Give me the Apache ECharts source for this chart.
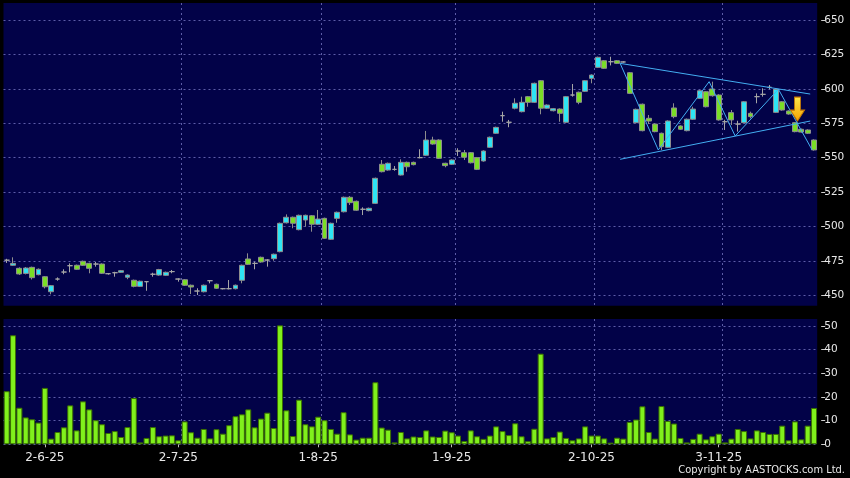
<!DOCTYPE html>
<html><head><meta charset="utf-8">
<script src="https://cdn.jsdelivr.net/npm/echarts@6/dist/echarts.min.js"></script>
<style>html,body{margin:0;padding:0;background:#000;}#c{width:850px;height:478px;}</style>
</head><body><div id="c"></div><script>
const dates = ['23-5-25','26-5-25','27-5-25','28-5-25','29-5-25','30-5-25',
'2-6-25','3-6-25','4-6-25','5-6-25','6-6-25','9-6-25','10-6-25','11-6-25','12-6-25','13-6-25','16-6-25','17-6-25','18-6-25','19-6-25','20-6-25','23-6-25','24-6-25','25-6-25','26-6-25','27-6-25','30-6-25',
'2-7-25','3-7-25','4-7-25','7-7-25','8-7-25','9-7-25','10-7-25','11-7-25','14-7-25','15-7-25','16-7-25','17-7-25','18-7-25','21-7-25','22-7-25','23-7-25','24-7-25','25-7-25','28-7-25','29-7-25','30-7-25','31-7-25',
'1-8-25','4-8-25','5-8-25','6-8-25','7-8-25','8-8-25','11-8-25','12-8-25','13-8-25','14-8-25','15-8-25','18-8-25','19-8-25','20-8-25','21-8-25','22-8-25','25-8-25','26-8-25','27-8-25','28-8-25','29-8-25',
'1-9-25','2-9-25','3-9-25','4-9-25','5-9-25','8-9-25','9-9-25','10-9-25','11-9-25','12-9-25','15-9-25','16-9-25','17-9-25','18-9-25','19-9-25','22-9-25','23-9-25','24-9-25','25-9-25','26-9-25','29-9-25','30-9-25',
'2-10-25','3-10-25','6-10-25','8-10-25','9-10-25','10-10-25','13-10-25','14-10-25','15-10-25','16-10-25','17-10-25','20-10-25','21-10-25','22-10-25','23-10-25','24-10-25','27-10-25','28-10-25','30-10-25','31-10-25',
'3-11-25','4-11-25','5-11-25','6-11-25','7-11-25','10-11-25','11-11-25','12-11-25','13-11-25','14-11-25','17-11-25','18-11-25','19-11-25','20-11-25','21-11-25','24-11-25'];

const opens = [475.5,471.8,469.6,465.9,470.3,465.0,463.5,452.6,461.8,466.9,471.5,471.8,474.7,473.2,472.7,472.7,465.7,466.4,466.7,463.1,
460.9,456.5,459.9,465.3,464.7,464.5,467.2,461.8,461.3,457.3,453.1,452.6,460.6,458.0,454.8,454.8,454.8,460.9,476.4,473.2,
477.6,475.6,476.6,481.7,502.7,506.7,497.7,504.7,507.8,501.6,505.9,490.7,505.9,510.7,521.2,518.3,512.5,511.5,516.8,545.2,
541.0,541.5,537.4,546.6,546.6,550.0,551.7,562.8,562.8,545.9,545.2,554.8,553.6,553.6,550.0,547.6,557.5,567.7,580.5,575.7,
585.9,583.4,594.3,590.2,605.9,585.9,584.1,585.3,575.7,595.5,597.5,598.2,607.6,615.6,620.4,619.7,620.4,619.5,611.7,575.4,
588.8,578.6,574.4,567.7,557.5,586.1,573.0,569.6,577.9,593.1,597.9,599.9,595.5,576.1,582.7,574.4,575.4,582.2,594.3,596.0,
601.1,582.9,590.6,583.9,575.4,570.6,570.1,562.8];
const closes = [475.5,473.2,465.5,469.8,462.8,468.9,456.2,457.0,461.8,466.9,471.5,468.9,471.8,469.6,472.7,466.0,465.7,466.4,467.9,464.7,
456.5,460.2,459.9,465.3,468.7,466.7,467.2,461.8,457.3,456.0,453.1,457.3,460.6,455.1,454.8,454.8,457.3,471.8,472.5,473.2,
474.2,475.6,479.8,502.3,506.7,502.3,508.1,508.1,501.6,505.4,491.4,502.3,510.3,521.2,517.3,511.8,512.5,513.2,535.0,539.8,
545.9,541.5,546.6,543.4,544.9,550.0,562.8,559.9,549.5,544.2,548.3,554.8,550.3,546.3,541.5,554.8,564.8,572.0,580.5,575.7,
589.5,590.2,590.2,604.0,585.9,588.2,585.6,582.2,594.3,595.5,590.2,605.9,610.0,622.9,614.9,619.7,618.5,619.5,596.7,585.1,
569.6,576.6,568.9,558.0,576.6,579.8,570.6,577.9,585.3,598.6,587.0,595.0,577.4,576.1,577.4,574.4,590.6,579.8,594.3,596.0,
601.1,599.7,584.6,581.7,568.9,568.6,567.7,555.6];
const lows = [473.5,471.3,464.8,465.2,461.5,464.5,455.0,450.7,460.6,465.3,466.7,468.5,471.3,466.0,470.8,465.5,465.0,463.5,466.2,461.7,
455.8,456.0,453.3,463.5,464.2,464.0,466.0,459.9,456.8,450.9,450.2,452.1,458.7,454.6,454.3,454.3,454.3,458.7,472.0,468.9,
473.7,470.8,475.1,481.2,502.2,498.7,497.2,499.8,496.2,501.1,490.9,490.2,502.7,510.2,515.6,511.3,508.3,511.0,516.3,539.3,
540.5,540.5,537.0,539.8,544.4,549.5,551.2,559.4,549.0,543.0,544.7,551.2,548.3,545.8,541.0,547.1,557.0,567.2,576.1,572.1,
585.1,582.9,587.0,589.7,581.5,585.4,583.6,576.1,575.2,594.3,588.8,597.7,604.0,615.1,614.4,617.0,618.0,619.0,596.2,574.9,
569.1,574.4,568.4,555.6,557.0,578.6,570.1,569.1,577.4,592.6,586.5,594.3,576.9,570.1,573.7,568.9,574.9,578.5,589.5,594.3,
599.7,582.4,584.1,581.2,568.4,568.1,567.2,555.1];
const highs = [476.5,477.6,470.3,470.5,470.8,469.5,464.0,457.5,463.0,468.9,473.2,472.3,475.2,473.7,474.2,473.2,466.2,467.1,468.4,465.2,
461.4,460.7,460.3,466.4,469.2,467.2,468.4,462.3,461.8,457.8,455.1,457.8,461.1,458.5,455.3,461.1,457.8,472.3,480.5,474.4,
478.1,476.2,480.3,502.8,508.8,507.2,508.6,508.6,508.3,512.0,506.4,502.8,510.8,521.7,522.1,518.8,513.9,513.7,535.5,548.3,
546.4,543.9,548.8,547.1,547.1,556.1,569.4,565.2,563.3,546.3,548.8,556.8,555.6,554.1,550.5,555.3,565.3,572.5,583.4,577.4,
593.1,594.3,594.8,604.5,606.4,588.7,586.1,585.8,594.8,603.5,598.0,606.4,610.5,623.4,620.9,623.3,620.9,620.0,612.2,585.6,
589.3,581.0,574.9,568.2,577.1,589.5,573.5,578.4,587.0,599.1,598.4,605.2,596.0,577.5,584.6,576.8,591.1,583.4,596.7,600.4,
602.8,600.2,591.1,584.4,575.9,571.1,570.6,563.3];
const volumes = [22.5,46.2,15.5,11.4,10.6,9.2,23.9,2.4,5.2,7.2,16.5,5.9,18.2,14.8,10.2,8.5,4.8,5.6,3.1,7.3,
19.6,0.8,2.7,7.3,3.4,3.7,3.8,1.7,9.7,5.1,2.8,6.5,2.5,6.4,4.5,8.1,11.9,12.7,14.8,7.2,
10.9,13.4,6.9,50.4,14.4,3.5,18.9,8.5,7.6,11.7,10.2,6.5,4.5,13.6,4.2,2.0,2.8,2.8,26.3,7.1,
6.2,0.8,5.2,2.5,3.3,3.1,5.9,3.3,3.1,5.8,5.1,3.7,1.4,5.9,3.4,2.3,3.7,7.6,5.6,3.9,
8.9,3.4,1.3,6.6,38.4,2.5,3.1,5.4,2.7,1.7,2.5,7.6,3.7,3.7,2.5,0.7,2.8,2.4,9.5,10.5,
16.1,5.2,2.4,16.2,9.9,8.8,2.7,0.8,2.3,4.5,2.1,3.4,4.5,0.8,2.4,6.5,5.6,2.5,5.9,5.2,
4.4,4.4,7.9,1.7,9.7,2.1,7.9,15.4];
const labelDates = ['2-6-25','2-7-25','1-8-25','1-9-25','2-10-25','3-11-25'];
const priceAxis = {min:450, max:650, interval:25};
const volumeAxis = {min:0, max:50, interval:10};
// hand-drawn annotation lines: [category index, price]
const upperTrend = [[96.5,618.5],[126.4,596.2]];
const lowerTrend = [[96.5,548.8],[126.4,576.6]];
const zigzag = [[96.5,618.5],[102.5,555.6],[110.5,605.2],[114.6,565.7],[121.4,599.7],[126.7,555.6]];
const arrowPoint = [[124.4,585.3]];
const copyright = 'Copyright by AASTOCKS.com Ltd.';

const chart = echarts.init(document.getElementById('c'), null, {renderer:'canvas', width:850, height:478});
const L = 3.5, W = 813.7;
const NAVY = '#020248';
const GRIDC = '#5d5da8';
const DASH = [2,3];
const FONT = 'DejaVu Sans';
const pxPerPrice = 275.3/(priceAxis.max-priceAxis.min);
const PMAX = priceAxis.max + 17/pxPerPrice;
const PMIN = priceAxis.min - 10.4/pxPerPrice;
const pxPerVol = 118/(volumeAxis.max-volumeAxis.min);
const VMAX = 125.3/pxPerVol;

const isLabel = v => labelDates.indexOf(v) >= 0;
const splitFn = idx => idx > 0 && isLabel(dates[idx-1]);
const splitLine = {show:true, interval:splitFn, showMaxLine:false, showMinLine:false, lineStyle:{color:GRIDC, type:DASH, width:1}};
const candleData = dates.map((d,i) => {
  const o = opens[i], c = closes[i];
  const item = {value:[o, c, lows[i], highs[i]]};
  if (o === c) item.itemStyle = {color:'#a6a6a6', borderColor:'#a6a6a6'};
  return item;
});
const yLabelAxis = (grid, ax) => ({gridIndex:grid, type:'value', min:ax.min, max:ax.max, interval:ax.interval,
  position:'right', offset:4, axisLine:{show:false},
  axisTick:{show:true, length:4, lineStyle:{color:'#cfcfcf'}},
  axisLabel:{color:'#e8e8e8', fontSize:10.5, fontFamily:FONT, margin:3},
  splitLine:{show:true, lineStyle:{color:GRIDC, type:DASH, width:1}}});
const trendStyle = {color:'#43aef2', width:1};

chart.setOption({
  backgroundColor:'#000',
  animation:false,
  grid:[
    {left:L, width:W, top:3, height:302.7, show:true, backgroundColor:NAVY, borderWidth:0},
    {left:L, width:W, top:20, height:275.3, show:false},
    {left:L, width:W, top:319, height:125.3, show:true, backgroundColor:NAVY, borderWidth:0},
    {left:L, width:W, top:326, height:118, show:false}
  ],
  xAxis:[
    {gridIndex:0, type:'category', data:dates, boundaryGap:true, axisLine:{show:false}, axisTick:{show:false}, axisLabel:{show:false}, splitLine:splitLine},
    {gridIndex:1, type:'category', data:dates, show:false},
    {gridIndex:2, type:'category', data:dates, boundaryGap:true, offset:2, axisLine:{show:false},
      axisTick:{show:true, interval:(i,v)=>isLabel(v), alignWithLabel:true, length:3, lineStyle:{color:'#bdbdbd'}},
      axisLabel:{show:true, interval:(i,v)=>isLabel(v), color:'#e8e8e8', fontSize:12, fontFamily:FONT, margin:5.5},
      splitLine:splitLine},
    {gridIndex:3, type:'category', data:dates, show:false},
    {gridIndex:0, type:'value', min:-0.5, max:dates.length-0.5, show:false}
  ],
  yAxis:[
    {gridIndex:0, type:'value', min:PMIN, max:PMAX, show:false},
    yLabelAxis(1, priceAxis),
    {gridIndex:2, type:'value', min:0, max:VMAX, show:false},
    yLabelAxis(3, volumeAxis)
  ],
  series:[
    {type:'candlestick', xAxisIndex:0, yAxisIndex:0, data:candleData, barWidth:5.4,
      itemStyle:{color:'#2ee4f4', color0:'#7ade26', borderColor:'#8e8e8e', borderColor0:'#8e8e8e', borderWidth:1}},
    {type:'bar', xAxisIndex:2, yAxisIndex:2, data:volumes, barWidth:'94%',
      itemStyle:{color:'#80f01c', borderColor:'#3b7000', borderWidth:1}},
    {type:'line', xAxisIndex:4, yAxisIndex:0, data:upperTrend, symbol:'none', lineStyle:trendStyle, z:5},
    {type:'line', xAxisIndex:4, yAxisIndex:0, data:lowerTrend, symbol:'none', lineStyle:trendStyle, z:5},
    {type:'line', xAxisIndex:4, yAxisIndex:0, data:zigzag, symbol:'none', lineStyle:trendStyle, z:5},
    {type:'scatter', xAxisIndex:4, yAxisIndex:0, data:arrowPoint, z:6,
      symbol:'path://M4,0 L10,0 L10,12 L14,12 L7,22 L0,12 L4,12 Z', symbolSize:[14,24],
      itemStyle:{color:new echarts.graphic.LinearGradient(0,0,0,1,[{offset:0,color:'#ffe84a'},{offset:1,color:'#f4a000'}]), borderColor:'#c87800', borderWidth:1, opacity:1}}
  ],
  graphic:[{type:'text', right:5, top:465, style:{text:copyright, fill:'#e8e8e8', font:'11px "DejaVu Sans Condensed", "DejaVu Sans"'}}]
});
</script></body></html>
